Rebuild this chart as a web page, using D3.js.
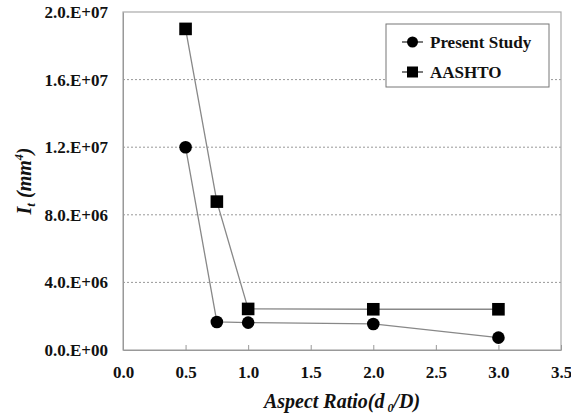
<!DOCTYPE html>
<html>
<head>
<meta charset="utf-8">
<script src="https://cdn.jsdelivr.net/npm/d3@7"></script>
<style>
	body { margin: 0; background: #fff; }
</style>
</head>
<body>
<div id="chart"></div>
<script>
// data
const aspectRatio = [0.5, 0.75, 1.0, 2.0, 3.0];
const presentStudy = [1.2e7, 1.66e6, 1.62e6, 1.54e6, 0.73e6];
const aashto = [1.9e7, 8.78e6, 2.43e6, 2.41e6, 2.41e6];
const xTicks = [0, 0.5, 1.0, 1.5, 2.0, 2.5, 3.0, 3.5];
const yTicks = [0, 4e6, 8e6, 1.2e7, 1.6e7, 2e7];
const yTickLabels = ["0.0.E+00", "4.0.E+06", "8.0.E+06", "1.2.E+07", "1.6.E+07", "2.0.E+07"];

const FONT = "\"Liberation Serif\"";
const MARGIN = { LEFT: 123, RIGHT: 10, TOP: 12, BOTTOM: 67 };
const WIDTH = 571 - MARGIN.LEFT - MARGIN.RIGHT;
const HEIGHT = 417 - MARGIN.TOP - MARGIN.BOTTOM;

const svg = d3.select("#chart").append("svg")
	.attr("width", 571)
	.attr("height", 417);

const g = svg.append("g")
	.attr("transform", `translate(${MARGIN.LEFT}, ${MARGIN.TOP})`);

// scales
const x = d3.scaleLinear().domain([0, 3.5]).range([0, WIDTH]);
const y = d3.scaleLinear().domain([0, 2e7]).range([HEIGHT, 0]);

// dotted gridlines
g.selectAll(".grid")
	.data(yTicks.filter(d => d > 0 && d < 2e7))
	.enter().append("line")
	.attr("class", "grid")
	.attr("x1", 0)
	.attr("x2", WIDTH)
	.attr("y1", d => y(d))
	.attr("y2", d => y(d))
	.attr("stroke", "#999")
	.attr("stroke-width", 1)
	.attr("stroke-dasharray", "2,2");

// frame
g.append("rect")
	.attr("width", WIDTH)
	.attr("height", HEIGHT)
	.attr("fill", "none")
	.attr("stroke", "#aaa")
	.attr("stroke-width", 1.2);

// x axis (ticks pointing up)
const xAxisCall = d3.axisBottom(x)
	.tickValues(xTicks)
	.tickSizeInner(-5)
	.tickSizeOuter(0)
	.tickPadding(16)
	.tickFormat(d3.format(".1f"));
const xAxis = g.append("g")
	.attr("transform", `translate(0, ${HEIGHT})`)
	.call(xAxisCall);
xAxis.select(".domain").attr("stroke", "#999");
xAxis.selectAll(".tick line").attr("stroke", "#999");

// y axis
const yAxisCall = d3.axisLeft(y)
	.tickValues(yTicks)
	.tickSize(0)
	.tickPadding(15)
	.tickFormat((d, i) => yTickLabels[i]);
const yAxis = g.append("g").call(yAxisCall);
yAxis.select(".domain").attr("stroke", "#999");

g.selectAll(".tick text")
	.style("font-family", FONT)
	.style("font-weight", "bold")
	.style("font-size", "17px")
	.attr("fill", "#111");

// lines
const line = d3.line()
	.x((d, i) => x(aspectRatio[i]))
	.y(d => y(d));

[presentStudy, aashto].forEach(series => {
	g.append("path")
		.attr("fill", "none")
		.attr("stroke", "#888")
		.attr("stroke-width", 1.3)
		.attr("d", line(series));
});

// markers
g.selectAll(".circ")
	.data(presentStudy)
	.enter().append("circle")
	.attr("cx", (d, i) => x(aspectRatio[i]))
	.attr("cy", d => y(d))
	.attr("r", 6.3)
	.attr("fill", "#000");

g.selectAll(".sq")
	.data(aashto)
	.enter().append("rect")
	.attr("x", (d, i) => x(aspectRatio[i]) - 6.3)
	.attr("y", d => y(d) - 6.3)
	.attr("width", 12.6)
	.attr("height", 12.6)
	.attr("fill", "#000");

// legend
const legend = svg.append("g").attr("transform", "translate(386, 24)");
legend.append("rect")
	.attr("width", 163)
	.attr("height", 63)
	.attr("fill", "#fff")
	.attr("stroke", "#777")
	.attr("stroke-width", 1);
const items = [
	{ name: "Present Study", shape: "circle" },
	{ name: "AASHTO", shape: "square" }
];
items.forEach((it, i) => {
	const row = legend.append("g").attr("transform", `translate(0, ${18 + i * 30})`);
	row.append("line")
		.attr("x1", 16).attr("x2", 37)
		.attr("stroke", "#333").attr("stroke-width", 1.3);
	if (it.shape === "circle") {
		row.append("circle").attr("cx", 26.5).attr("r", 5.5).attr("fill", "#000");
	} else {
		row.append("rect").attr("x", 21).attr("y", -5.5).attr("width", 11).attr("height", 11).attr("fill", "#000");
	}
	row.append("text")
		.attr("x", 44)
		.attr("dy", "0.35em")
		.style("font-family", FONT)
		.style("font-weight", "bold")
		.style("font-size", "17px")
		.attr("fill", "#111")
		.text(it.name);
});

// axis labels
const xLabel = svg.append("text")
	.attr("x", 342)
	.attr("y", 408)
	.attr("text-anchor", "middle")
	.style("font-family", FONT)
	.style("font-weight", "bold")
	.style("font-size", "20px")
	.style("font-style", "italic")
	.attr("fill", "#111");
xLabel.append("tspan").text("Aspect Ratio(d");
xLabel.append("tspan").style("font-size", "12px").attr("dy", 4).text(" 0");
xLabel.append("tspan").attr("dy", -4).text("/D)");

const yLabel = svg.append("text")
	.attr("transform", "translate(31, 181) rotate(-90)")
	.attr("text-anchor", "middle")
	.style("font-family", FONT)
	.style("font-weight", "bold")
	.style("font-size", "20px")
	.style("font-style", "italic")
	.attr("fill", "#111");
yLabel.append("tspan").text("I");
yLabel.append("tspan").style("font-size", "13px").attr("dy", 4).text("t");
yLabel.append("tspan").attr("dy", -4).text(" (mm");
yLabel.append("tspan").style("font-size", "12px").attr("dy", -8).text("4");
yLabel.append("tspan").attr("dy", 8).text(")");
</script>
</body>
</html>
